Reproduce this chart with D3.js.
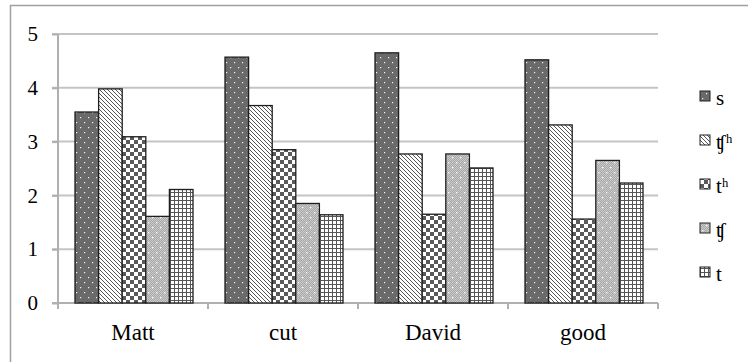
<!DOCTYPE html>
<html>
<head>
<meta charset="utf-8">
<script src="https://cdn.jsdelivr.net/npm/d3@7"></script>
<style>
  html, body { margin: 0; padding: 0; background: #fff; }
  svg { display: block; }
  text { font-family: "Liberation Serif", "DejaVu Serif", serif; fill: #000; }
</style>
</head>
<body>
<script>
// ---- data ----
const categories = ["Matt", "cut", "David", "good"];
const seriesNames = ["s", "ʧʰ", "tʰ", "ʧ", "t"];
const sValues   = [3.55, 4.57, 4.65, 4.52];
const tshhValues = [3.98, 3.67, 2.77, 3.31];
const thValues  = [3.09, 2.85, 1.65, 1.56];
const tshValues = [1.61, 1.85, 2.77, 2.65];
const tValues   = [2.11, 1.64, 2.51, 2.23];
const yTicks = [0, 1, 2, 3, 4, 5];

const seriesValues = [sValues, tshhValues, thValues, tshValues, tValues];
const patternIds = ["pS", "pTshH", "pTh", "pTsh", "pT"];

const W = 748, H = 362;
const svg = d3.select("body").append("svg").attr("width", W).attr("height", H);

// ---- patterns ----
const defs = svg.append("defs");
// s: dark gray with white dots
let p = defs.append("pattern").attr("id", "pS").attr("patternUnits", "userSpaceOnUse")
  .attr("width", 8).attr("height", 10);
p.append("rect").attr("width", 8).attr("height", 10).attr("fill", "#6a6a6a");
p.append("rect").attr("x", 2).attr("y", 2).attr("width", 1.2).attr("height", 1.2).attr("fill", "#f4f4f4");
p.append("rect").attr("x", 6).attr("y", 7).attr("width", 1.2).attr("height", 1.2).attr("fill", "#f4f4f4");
// tʃʰ: diagonal lines
p = defs.append("pattern").attr("id", "pTshH").attr("patternUnits", "userSpaceOnUse")
  .attr("width", 4).attr("height", 4);
p.append("rect").attr("width", 4).attr("height", 4).attr("fill", "#fff");
p.append("path").attr("d", "M-1,-1 L5,5 M-1,3 L1,5 M3,-1 L5,1").attr("stroke", "#555").attr("stroke-width", 1);
// tʰ: checkerboard
p = defs.append("pattern").attr("id", "pTh").attr("patternUnits", "userSpaceOnUse")
  .attr("width", 8).attr("height", 8);
p.append("rect").attr("width", 8).attr("height", 8).attr("fill", "#fff");
p.append("rect").attr("width", 4).attr("height", 4).attr("fill", "#5a5a5a");
p.append("rect").attr("x", 4).attr("y", 4).attr("width", 4).attr("height", 4).attr("fill", "#5a5a5a");
// tʃ: light gray dither with white dots
p = defs.append("pattern").attr("id", "pTsh").attr("patternUnits", "userSpaceOnUse")
  .attr("width", 8).attr("height", 10);
p.append("rect").attr("width", 8).attr("height", 10).attr("fill", "#a8a8a8");
for (let yy = 0; yy < 10; yy++) for (let xx = 0; xx < 8; xx++) {
  if ((xx + yy) % 2 === 0) p.append("rect").attr("x", xx).attr("y", yy).attr("width", 1).attr("height", 1).attr("fill", "#cacaca");
}
p.append("rect").attr("x", 2).attr("y", 2).attr("width", 1.3).attr("height", 1.3).attr("fill", "#fff");
p.append("rect").attr("x", 6).attr("y", 7).attr("width", 1.3).attr("height", 1.3).attr("fill", "#fff");
// t: grid
p = defs.append("pattern").attr("id", "pT").attr("patternUnits", "userSpaceOnUse")
  .attr("width", 4).attr("height", 4);
p.append("rect").attr("width", 4).attr("height", 4).attr("fill", "#fff");
p.append("path").attr("d", "M0,0.5 H4 M0.5,0 V4").attr("stroke", "#555").attr("stroke-width", 1);

// ---- outer border ----
svg.append("rect").attr("x", 10.5).attr("y", 5.5).attr("width", W).attr("height", H)
  .attr("fill", "none").attr("stroke", "#a0a0a0").attr("stroke-width", 1.5);

// ---- scales ----
const plotL = 58, plotR = 658, plotT = 34, plotB = 303;
const y = d3.scaleLinear().domain([0, 5]).range([plotB, plotT]);
const x0 = d3.scaleBand().domain(categories).range([plotL, plotR]).padding(0);
const x1 = d3.scaleBand().domain(seriesNames).range([17, 135]).padding(0);

// ---- gridlines ----
svg.append("g").selectAll("line").data(yTicks.filter(d => d > 0)).join("line")
  .attr("x1", plotL - 6).attr("x2", plotR)
  .attr("y1", d => y(d)).attr("y2", d => y(d))
  .attr("stroke", "#c4c4c4").attr("stroke-width", 2);

// ---- y axis ----
const yAxis = svg.append("g").attr("transform", `translate(${plotL},0)`)
  .call(d3.axisLeft(y).tickValues(yTicks).tickSize(6).tickPadding(14).tickFormat(d3.format("d")));
yAxis.select(".domain").attr("stroke", "#b0b0b0").attr("stroke-width", 2)
  .attr("d", `M0,${plotT}V${plotB + 6}`);
yAxis.selectAll(".tick line").attr("stroke", "#b0b0b0").attr("stroke-width", 2);
yAxis.selectAll(".tick text").attr("font-size", 21).attr("fill", "#000");

// ---- x axis ----
const xAxisG = svg.append("g").attr("transform", `translate(0,${plotB})`);
xAxisG.append("line").attr("x1", plotL - 6).attr("x2", plotR).attr("y1", 0).attr("y2", 0)
  .attr("stroke", "#b0b0b0").attr("stroke-width", 2);
const boundaries = categories.map(c => x0(c)).concat([x0(categories[categories.length - 1]) + x0.bandwidth()]);
xAxisG.selectAll("line.b").data(boundaries).join("line").attr("class", "b")
  .attr("x1", d => d).attr("x2", d => d).attr("y1", 0).attr("y2", 6)
  .attr("stroke", "#b0b0b0").attr("stroke-width", 2);
xAxisG.selectAll("text").data(categories).join("text")
  .attr("x", d => x0(d) + x0.bandwidth() / 2)
  .attr("y", 37)
  .attr("text-anchor", "middle")
  .attr("font-size", 23)
  .text(d => d);

// ---- bars ----
const groups = svg.append("g").selectAll("g").data(categories).join("g")
  .attr("transform", d => `translate(${x0(d)},0)`);
groups.selectAll("rect").data((c, ci) => seriesNames.map((s, si) => ({ s, si, v: seriesValues[si][ci] })))
  .join("rect")
  .attr("x", d => x1(d.s))
  .attr("width", x1.bandwidth())
  .attr("y", d => y(d.v))
  .attr("height", d => y(0) - y(d.v))
  .attr("fill", d => `url(#${patternIds[d.si]})`)
  .attr("stroke", "#1e1e1e").attr("stroke-width", 1.3);

// ---- legend ----
const legend = svg.append("g").selectAll("g").data(seriesNames).join("g")
  .attr("transform", (d, i) => `translate(700,${96 + i * 44})`);
legend.append("rect").attr("x", 0).attr("y", -5).attr("width", 10).attr("height", 10)
  .attr("fill", (d, i) => `url(#${patternIds[i]})`).attr("stroke", "#222").attr("stroke-width", 1);
legend.append("text").attr("x", 16).attr("y", 9).attr("font-size", 21).text(d => d);
</script>
</body>
</html>
